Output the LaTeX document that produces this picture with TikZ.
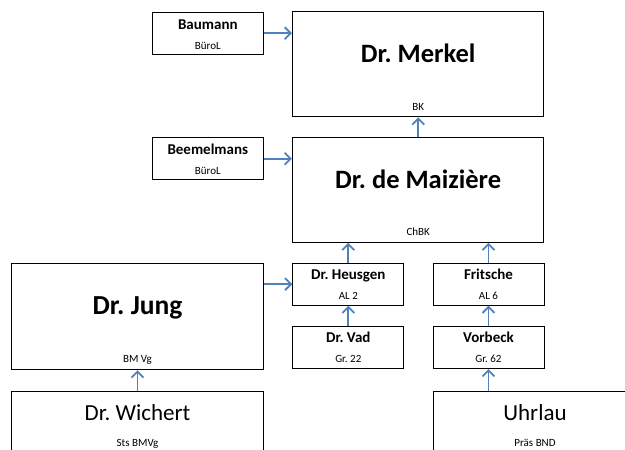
\documentclass[tikz,border=0pt]{standalone}
\usepackage{fontspec}
\setmainfont{Carlito}
\usetikzlibrary{positioning,arrows.meta}
\definecolor{linkblue}{RGB}{79,129,189}
\frenchspacing

\begin{document}
\begin{tikzpicture}[x=1pt,y=-1pt,
	orgbox/.style={draw,line width=1pt,inner sep=0pt},
	smallbox/.style={orgbox,minimum width=111pt,minimum height=42pt},
	bigbox/.style={orgbox,minimum width=251.5pt,minimum height=105pt},
	smallname/.style={anchor=base,font=\bfseries\fontsize{15}{18}\selectfont},
	bigname/.style={anchor=base,font=\bfseries\fontsize{26.5}{30}\selectfont},
	plainname/.style={anchor=base,font=\fontsize{23}{27}\selectfont},
	rolename/.style={anchor=base,font=\fontsize{11}{13}\selectfont},
	link/.style={->,draw=linkblue,line width=1.8pt},
	>={Straight Barb[length=6pt,width=12pt]}]

		\useasboundingbox (0,0) rectangle (625,450);
		\clip (0,0) rectangle (625,450);

		%the chancellery at the top
		\node[smallbox] (baumann) at (207.8,33.2) {};
		\node[smallname] (baumanntitle) at (207.8,29.3) {Baumann};
		\node[rolename] (baumannrole) at (207.8,49) {BüroL};
		\node[bigbox] (merkel) at (418.2,64.3) {};
		\node[bigname] (merkeltitle) at (418.2,62.3) {Dr. Merkel};
		\node[rolename] (merkelrole) at (418.2,110) {BK};

		\node[smallbox] (beemelmans) at (207.8,158.7) {};
		\node[smallname] (beemelmanstitle) at (207.8,154.3) {Beemelmans};
		\node[rolename] (beemelmansrole) at (207.8,174) {BüroL};
		\node[bigbox] (maiziere) at (418.2,189.8) {};
		\node[bigname] (maizieretitle) at (418.2,188) {Dr. de Maizière};
		\node[rolename] (maizierrole) at (418.2,235) {ChBK};

		%the departments
		\node[smallbox] (heusgen) at (348.3,284.2) {};
		\node[smallname] (heusgentitle) at (348.3,279) {Dr. Heusgen};
		\node[rolename] (heusgenrole) at (348.3,299) {AL 2};
		\node[smallbox] (fritsche) at (488.5,284.2) {};
		\node[smallname] (fritschetitle) at (488.5,279) {Fritsche};
		\node[rolename] (fritscherole) at (488.5,299) {AL 6};

		\node[smallbox] (vad) at (348.3,347.5) {};
		\node[smallname] (vadtitle) at (348.3,342.7) {Dr. Vad};
		\node[rolename] (vadrole) at (348.3,362.7) {Gr. 22};
		\node[smallbox] (vorbeck) at (488.5,347.5) {};
		\node[smallname] (vorbecktitle) at (488.5,342.7) {Vorbeck};
		\node[rolename] (vorbeckrole) at (488.5,362.7) {Gr. 62};

		%defence ministry and BND
		\node[bigbox,minimum height=106.5pt] (jung) at (137.5,316.7) {};
		\node[bigname,font=\bfseries\fontsize{27.5}{31}\selectfont] (jungtitle) at (137.5,314) {Dr. Jung};
		\node[rolename] (jungrole) at (137.5,362.7) {BM Vg};
		\node[bigbox,minimum height=70pt] (wichert) at (137.5,426.7) {};
		\node[plainname] (wicherttitle) at (137.5,420) {Dr. Wichert};
		\node[rolename] (wichertrole) at (137.5,446.7) {Sts BMVg};
		\node[orgbox,minimum width=204pt,minimum height=70pt] (uhrlau) at (535,426.7) {};
		\node[plainname] (uhrlautitle) at (535,420) {Uhrlau};
		\node[rolename] (uhrlaurole) at (535,446.7) {Präs BND};

		% the reporting lines
		\draw[link] (baumann.east) -- (baumann.east -| merkel.west);
		\draw[link] (beemelmans.east) -- (beemelmans.east -| maiziere.west);
		\draw[link] (maiziere.north) -- (merkel.south);
		\draw[link] (heusgen.north) -- (heusgen.north |- maiziere.south);
		\draw[link] (fritsche.north) -- (fritsche.north |- maiziere.south);
		\draw[link] (jung.east |- heusgen.west) -- (heusgen.west);
		\draw[link] (vad.north) -- (heusgen.south);
		\draw[link] (vorbeck.north) -- (fritsche.south);
		\draw[link] (wichert.north) -- (jung.south);
		\draw[link] (vorbeck.south |- uhrlau.north) -- (vorbeck.south);

	\end{tikzpicture}
\end{document}
